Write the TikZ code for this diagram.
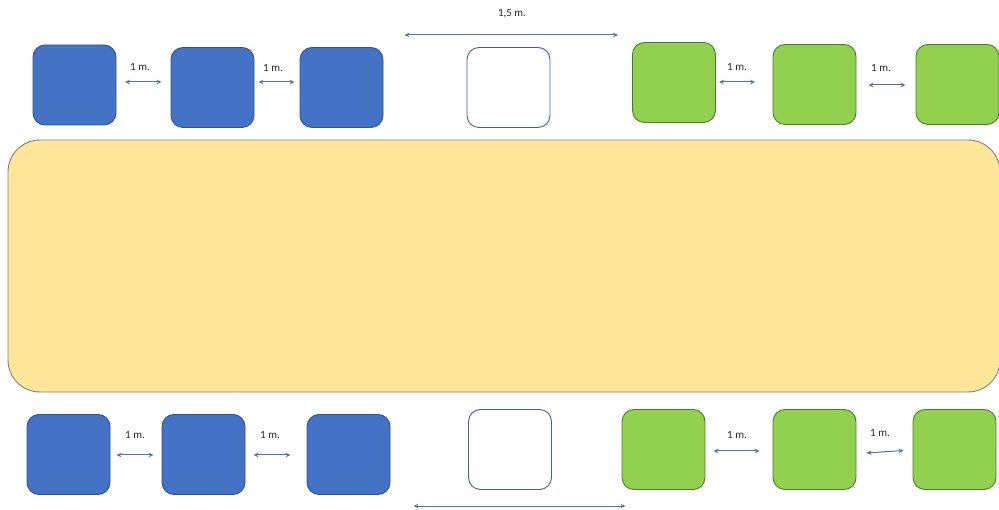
\documentclass[tikz,border=0pt]{standalone}
\usepackage{fontspec}
\setmainfont{Carlito}
\usetikzlibrary{arrows.meta}
\definecolor{bluefill}{HTML}{4472C4}
\definecolor{blueline}{HTML}{2F528F}
\definecolor{greenfill}{HTML}{92D050}
\definecolor{greenline}{HTML}{4E7A2E}
\definecolor{tablefill}{HTML}{FFE699}
\definecolor{tableline}{HTML}{7F7F7F}
\definecolor{dimcol}{HTML}{4F73AE}
\tikzset{
  seat/.style={rectangle, rounded corners=12pt, minimum width=83pt, minimum height=80pt, line width=0.9pt, inner sep=0pt},
  blueseat/.style={seat, fill=bluefill, draw=blueline},
  greenseat/.style={seat, fill=greenfill, draw=greenline},
  whiteseat/.style={seat, fill=white, draw=blueline!70!gray},
  dimarrow/.style={draw=dimcol, line width=1pt, {Stealth[length=5pt,width=4.5pt]}-{Stealth[length=5pt,width=4.5pt]}},
  lbl/.style={font=\fontsize{11}{13}\selectfont, text=black!85, inner sep=0pt}
}
\begin{document}
\begin{tikzpicture}[x=1pt,y=-1pt]
\useasboundingbox (0,0) rectangle (999,510);
% table
\node[draw=tableline, fill=tablefill, line width=0.9pt, rounded corners=32pt, minimum width=992pt, minimum height=252pt, inner sep=0pt] (table) at (504,266) {};
% top row
\node[blueseat] (tb1) at (74.5,85) {};
\node[blueseat] (tb2) at (212.5,87.5) {};
\node[blueseat] (tb3) at (341.5,87.5) {};
\node[whiteseat] (tw) at (508.5,87.5) {};
\node[greenseat] (tg1) at (674,82.5) {};
\node[greenseat] (tg2) at (814.5,84.5) {};
\node[greenseat] (tg3) at (957.5,84.5) {};
% bottom row
\node[blueseat] (bb1) at (68.5,454.5) {};
\node[blueseat] (bb2) at (203.5,454.5) {};
\node[blueseat] (bb3) at (348.5,454.5) {};
\node[whiteseat] (bw) at (510,449.5) {};
\node[greenseat] (bg1) at (663.5,449.5) {};
\node[greenseat] (bg2) at (814.5,449.5) {};
\node[greenseat] (bg3) at (954.5,449.5) {};
% top dimension arrows
\draw[dimarrow] ([shift={(8.5,-3)}]tb1.east) -- ([shift={(-9,-5.5)}]tb2.west);
\node[lbl] (lt1) at (140,67) {1 m.};
\draw[dimarrow] ([shift={(4,-5.5)}]tb2.east) -- ([shift={(-5,-5.5)}]tb3.west);
\node[lbl] (lt2) at (273,68) {1 m.};
\draw[dimarrow] ([shift={(-62,-52.5)}]tw.west) -- ([shift={(67.5,-52.5)}]tw.east);
\node[lbl] (lt3) at (512,14) {1,5 m.};
\draw[dimarrow] ([shift={(3,-0.5)}]tg1.east) -- ([shift={(-17.5,-2.5)}]tg2.west);
\node[lbl] (lt4) at (737,67) {1 m.};
\draw[dimarrow] ([shift={(12,0.5)}]tg2.east) -- ([shift={(-10,0.5)}]tg3.west);
\node[lbl] (lt5) at (881,68) {1 m.};
% bottom dimension arrows
\draw[dimarrow] ([shift={(6,0.5)}]bb1.east) -- ([shift={(-8,0.5)}]bb2.west);
\node[lbl] (lb1) at (135,435) {1 m.};
\draw[dimarrow] ([shift={(8,0.5)}]bb2.east) -- ([shift={(-16,0.5)}]bb3.west);
\node[lbl] (lb2) at (270,435) {1 m.};
\draw[dimarrow] ([shift={(-54.5,56.5)}]bw.west) -- ([shift={(73.5,56.5)}]bw.east);
\draw[dimarrow] ([shift={(8,1.5)}]bg1.east) -- ([shift={(-13,1.5)}]bg2.west);
\node[lbl] (lb3) at (737,435) {1 m.};
\draw[dimarrow] ([shift={(10,3.5)}]bg2.east) -- ([shift={(-9,1)}]bg3.west);
\node[lbl] (lb4) at (880,433) {1 m.};
\end{tikzpicture}
\end{document}
